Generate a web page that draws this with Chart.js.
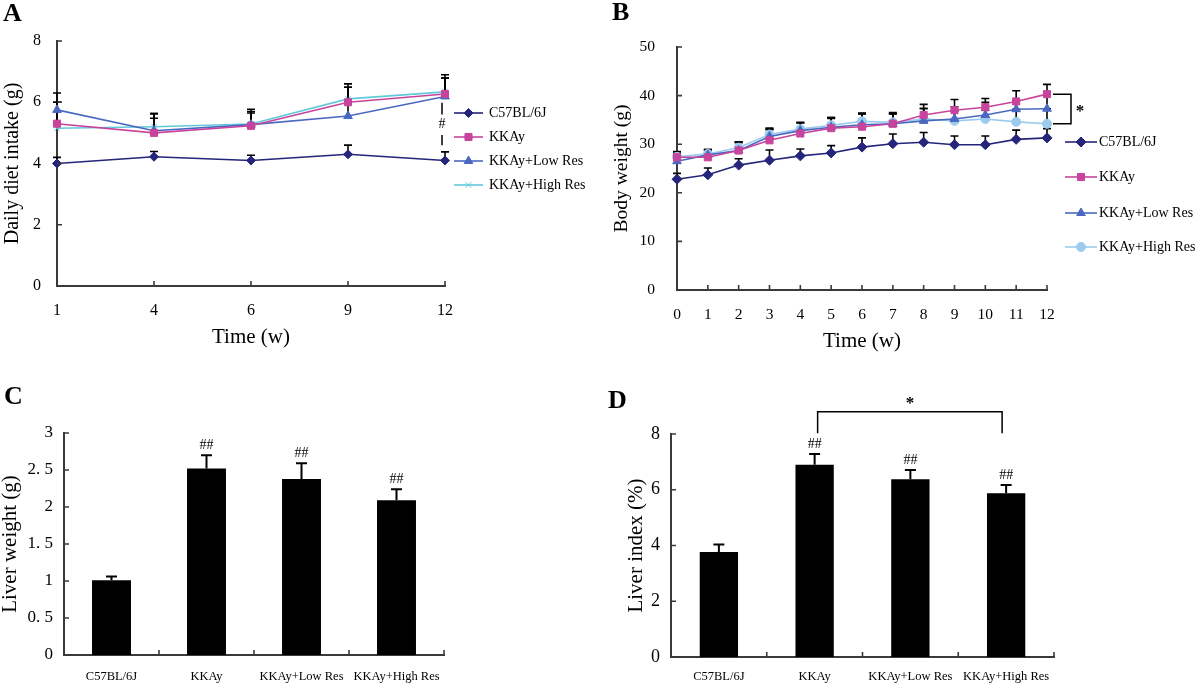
<!DOCTYPE html>
<html><head><meta charset="utf-8">
<script src="https://cdn.jsdelivr.net/npm/chart.js@4/dist/chart.umd.min.js"></script>
<style>
html,body{margin:0;padding:0;background:#fff;}
#wrap{position:relative;width:1200px;height:687px;overflow:hidden;background:#fff;}
canvas{position:absolute;}
.lbl{position:absolute;font-family:"Liberation Serif","Times New Roman",serif;font-weight:bold;font-size:26px;line-height:1;color:#000;}
</style></head><body>
<div id="wrap">
<canvas id="cA" width="600" height="360" style="left:0;top:0"></canvas>
<canvas id="cB" width="600" height="360" style="left:600px;top:0"></canvas>
<canvas id="cC" width="600" height="307" style="left:0;top:380px"></canvas>
<canvas id="cD" width="600" height="307" style="left:600px;top:380px"></canvas>
<div class="lbl" style="left:3px;top:0px">A</div>
<div class="lbl" style="left:612px;top:-1px">B</div>
<div class="lbl" style="left:4px;top:383px">C</div>
<div class="lbl" style="left:608px;top:387px">D</div>
</div>
<script>
// ---------- data ----------
const groups = ['C57BL/6J','KKAy','KKAy+Low Res','KKAy+High Res'];

// Panel A: daily diet intake (g)
const weeksA = ['1','4','6','9','12'];
const intakeC57 = [4.0,4.22,4.1,4.3,4.1];
const intakeC57Err = [0.2,0.17,0.17,0.3,0.28];
const intakeKKAy = [5.3,5.0,5.23,6.0,6.27];
const intakeKKAyErr = [0.7,0.48,0.42,0.49,0.52];
const intakeLow = [5.75,5.07,5.27,5.55,6.19];
const intakeLowErr = [0.55,0.56,0.43,0.94,0.6];
const intakeHigh = [5.15,5.2,5.29,6.11,6.34];
const intakeHighErr = [0.85,0.43,0.48,0.49,0.56];

// Panel B: body weight (g)
const weeksB = ['0','1','2','3','4','5','6','7','8','9','10','11','12'];
const bwC57 = [22.8,23.7,25.7,26.7,27.6,28.2,29.4,30.1,30.4,29.9,29.9,31.0,31.3];
const bwC57Err = [1.2,1.4,1.3,2.1,1.4,1.5,1.9,2.0,2.0,1.8,1.8,1.9,1.9];
const bwKKAy = [27.3,27.3,28.7,30.8,32.2,33.3,33.6,34.2,36.0,37.0,37.6,38.8,40.3];
const bwKKAyErr = [1.2,1.5,1.8,2.5,2.3,2.2,2.8,2.3,2.2,2.2,1.8,2.2,2.0];
const bwLow = [26.5,27.8,28.7,31.6,32.8,33.5,34.0,34.2,34.8,35.2,36.0,37.2,37.3];
const bwLowErr = [1.5,1.1,1.6,1.5,1.6,1.8,2.2,2.0,2.5,2.5,2.6,1.8,3.0];
const bwHigh = [27.4,28.0,29.3,32.0,33.1,33.9,34.7,34.5,35.2,34.8,35.2,34.6,34.2];
const bwHighErr = [1.0,0.9,1.2,1.0,1.3,1.6,1.6,1.8,2.2,2.0,1.8,2.6,3.1];

// Panel C: liver weight (g)
const liverWeight = [1.01,2.52,2.38,2.09];
const liverWeightErr = [0.05,0.18,0.21,0.15];
const liverWeightMarks = ['','##','##','##'];
const yTicksC = ['0','0. 5','1','1. 5','2','2. 5','3'];

// Panel D: liver index (%)
const liverIndex = [3.77,6.9,6.38,5.87];
const liverIndexErr = [0.27,0.38,0.33,0.3];
const liverIndexMarks = ['','##','##','##'];

// ---------- style ----------
const FONT = "'Liberation Serif','Times New Roman',serif";
const AX = '#3a3a3a';
const NAVY = '#25257c', MAGENTA = '#c8449c', BLUE = '#4a68c0', CYAN = '#62c9dc', LIGHTBLUE = '#9ccbee';
Chart.defaults.font.family = FONT;
Chart.defaults.color = '#000';
Chart.defaults.animation = false;

function lineDs(label, data, errors, color, style, r) {
  return {label, data, errors, borderColor: color, backgroundColor: color,
    pointBackgroundColor: color, pointBorderColor: color, pointStyle: style,
    pointRadius: r, pointBorderWidth: 1, borderWidth: 1.6, tension: 0, clip: false};
}

function drawMarker(ctx, style, r, x, y, color, bw) {
  ctx.save();
  ctx.fillStyle = color; ctx.strokeStyle = color; ctx.lineWidth = bw;
  const H = Chart.helpers;
  if (H && H.drawPoint) {
    H.drawPoint(ctx, {pointStyle: style, radius: r, borderWidth: bw, rotation: 0}, x, y);
  } else {
    ctx.beginPath(); ctx.arc(x, y, r, 0, Math.PI * 2); ctx.fill();
  }
  ctx.restore();
}

function errorBarPlugin(cap, lw, after) {
  const fn = function (chart) {
    const ctx = chart.ctx, ys = chart.scales.y;
    ctx.save(); ctx.strokeStyle = '#000'; ctx.lineWidth = lw;
    chart.data.datasets.forEach((ds, i) => {
      if (!ds.errors) return;
      const meta = chart.getDatasetMeta(i);
      meta.data.forEach((el, j) => {
        const v = ds.data[j], e = ds.errors[j];
        const x = el.x, y0 = ys.getPixelForValue(v), y1 = ys.getPixelForValue(v + e);
        ctx.beginPath();
        ctx.moveTo(x, y0); ctx.lineTo(x, y1);
        ctx.moveTo(x - cap / 2, y1); ctx.lineTo(x + cap / 2, y1);
        ctx.stroke();
      });
    });
    ctx.restore();
  };
  return after ? {id: 'errbars', afterDatasetsDraw: fn} : {id: 'errbars', beforeDatasetsDraw: fn};
}

function innerTicksPlugin(len, boundaries) {
  return {id: 'innerTicks', afterDraw(chart) {
    const {ctx, chartArea: ca, scales: {x, y}} = chart;
    ctx.save(); ctx.strokeStyle = AX; ctx.lineWidth = 1.6;
    ctx.beginPath();
    y.ticks.forEach(t => { const py = y.getPixelForValue(t.value); ctx.moveTo(ca.left, py); ctx.lineTo(ca.left + len, py); });
    const n = x.getLabels().length;
    if (boundaries) {
      for (let i = 1; i <= n; i++) { const px = ca.left + (ca.right - ca.left) * i / n; ctx.moveTo(px, ca.bottom); ctx.lineTo(px, ca.bottom - len); }
    } else {
      for (let i = 0; i < n; i++) { const px = x.getPixelForValue(i); ctx.moveTo(px, ca.bottom); ctx.lineTo(px, ca.bottom - len); }
    }
    ctx.stroke(); ctx.restore();
  }};
}

function legendPlugin(x0, x1, tx, ys, fontSize) {
  return {id: 'customLegend', afterDraw(chart) {
    const ctx = chart.ctx;
    chart.data.datasets.forEach((ds, i) => {
      const y = ys[i];
      ctx.save();
      ctx.strokeStyle = ds.borderColor; ctx.lineWidth = ds.borderWidth;
      ctx.beginPath(); ctx.moveTo(x0, y); ctx.lineTo(x1, y); ctx.stroke();
      drawMarker(ctx, ds.pointStyle, ds.pointRadius, (x0 + x1) / 2, y, ds.pointBorderColor, ds.pointBorderWidth);
      ctx.fillStyle = '#000'; ctx.font = fontSize + 'px ' + FONT;
      ctx.textBaseline = 'middle'; ctx.textAlign = 'left';
      ctx.fillText(ds.label, tx, y);
      ctx.restore();
    });
  }};
}

function barMarksPlugin(gap, fontSize) {
  return {id: 'barMarks', afterDraw(chart) {
    const ctx = chart.ctx, ys = chart.scales.y;
    const ds = chart.data.datasets[0], meta = chart.getDatasetMeta(0);
    ctx.save(); ctx.fillStyle = '#000'; ctx.font = fontSize + 'px ' + FONT;
    ctx.textAlign = 'center'; ctx.textBaseline = 'middle';
    meta.data.forEach((el, j) => {
      if (!ds.marks[j]) return;
      const top = ys.getPixelForValue(ds.data[j] + ds.errors[j]);
      ctx.fillText(ds.marks[j], el.x, top - gap);
    });
    ctx.restore();
  }};
}

function baseScales(o) {
  return {
    x: {type: 'category', offset: o.offset, grid: {display: false, drawTicks: false},
      border: {color: AX, width: 2},
      ticks: {font: {size: o.xFont}, padding: o.xPad, maxRotation: 0, autoSkip: false, color: '#000'},
      title: o.xTitle ? {display: true, text: o.xTitle, font: {size: 21}, padding: {top: 0, bottom: o.xTitlePad}, color: '#000'} : {display: false},
      afterFit(s) { s.height = o.xH; }},
    y: {min: o.min, max: o.max, grid: {display: false, drawTicks: false},
      border: {color: AX, width: 2},
      ticks: {stepSize: o.step, font: {size: o.yFont}, padding: o.yPad, color: '#000', callback: o.yCb},
      title: {display: true, text: o.yTitle, font: {size: o.yTitleSize, lineHeight: 1}, padding: {top: o.yTitlePad, bottom: 0}, color: '#000'},
      afterFit(s) { s.width = o.yW; }}
  };
}

// ---------- Panel A ----------
new Chart(document.getElementById('cA'), {
  type: 'line',
  data: {labels: weeksA, datasets: [
    lineDs(groups[0], intakeC57, intakeC57Err, NAVY, 'rectRot', 4.5),
    lineDs(groups[1], intakeKKAy, intakeKKAyErr, MAGENTA, 'rect', 5),
    lineDs(groups[2], intakeLow, intakeLowErr, BLUE, 'triangle', 5),
    lineDs(groups[3], intakeHigh, intakeHighErr, CYAN, 'crossRot', 4)
  ]},
  options: {responsive: false, animation: false,
    layout: {padding: {left: 0, top: 41, right: 155, bottom: 0}},
    plugins: {legend: {display: false}, tooltip: {enabled: false}},
    scales: baseScales({offset: false, xFont: 16, xPad: 15, xTitle: 'Time (w)', xTitlePad: 10, xH: 74,
      min: 0, max: 8, step: 2, yFont: 16, yPad: 16, yTitle: 'Daily diet intake (g)', yTitleSize: 20, yTitlePad: 3, yW: 57})
  },
  plugins: [errorBarPlugin(8, 1.6, false), innerTicksPlugin(5, false),
    legendPlugin(454, 483, 489, [113, 137, 161, 185], 14),
    {id: 'sigA', afterDraw(chart) {
      const {ctx, scales: {x, y}} = chart;
      const px = x.getPixelForValue(4) - 3;
      ctx.save(); ctx.strokeStyle = '#000'; ctx.lineWidth = 1.5;
      ctx.beginPath();
      ctx.moveTo(px, y.getPixelForValue(4.6)); ctx.lineTo(px, y.getPixelForValue(4.93));
      ctx.moveTo(px, y.getPixelForValue(5.6)); ctx.lineTo(px, y.getPixelForValue(5.98));
      ctx.stroke();
      ctx.fillStyle = '#000'; ctx.font = '14px ' + FONT; ctx.textAlign = 'center'; ctx.textBaseline = 'middle';
      ctx.fillText('#', px, y.getPixelForValue(5.28));
      ctx.restore();
    }}]
});

// ---------- Panel B ----------
new Chart(document.getElementById('cB'), {
  type: 'line',
  data: {labels: weeksB, datasets: [
    lineDs(groups[0], bwC57, bwC57Err, NAVY, 'rectRot', 5),
    lineDs(groups[1], bwKKAy, bwKKAyErr, MAGENTA, 'rect', 5),
    lineDs(groups[2], bwLow, bwLowErr, BLUE, 'triangle', 5),
    lineDs(groups[3], bwHigh, bwHighErr, LIGHTBLUE, 'circle', 4.5)
  ]},
  options: {responsive: false, animation: false,
    layout: {padding: {left: 0, top: 47, right: 153, bottom: 0}},
    plugins: {legend: {display: false}, tooltip: {enabled: false}},
    scales: baseScales({offset: false, xFont: 15.5, xPad: 16, xTitle: 'Time (w)', xTitlePad: 6, xH: 70,
      min: 0, max: 50, step: 10, yFont: 15.5, yPad: 22, yTitle: 'Body weight (g)', yTitleSize: 19.5, yTitlePad: 12, yW: 77})
  },
  plugins: [errorBarPlugin(8, 1.6, false), innerTicksPlugin(5, false),
    legendPlugin(465, 497, 499, [142, 177, 213, 247], 14),
    {id: 'sigB', afterDraw(chart) {
      const {ctx, scales: {x, y}} = chart;
      const last = weeksB.length - 1;
      const px = x.getPixelForValue(last);
      const yT = y.getPixelForValue(bwKKAy[last]), yB = y.getPixelForValue(bwHigh[last]);
      ctx.save(); ctx.strokeStyle = '#000'; ctx.lineWidth = 1.5;
      ctx.beginPath();
      ctx.moveTo(px + 6, yT); ctx.lineTo(px + 24, yT); ctx.lineTo(px + 24, yB); ctx.lineTo(px + 6, yB);
      ctx.stroke();
      ctx.fillStyle = '#000'; ctx.font = 'bold 17px ' + FONT; ctx.textAlign = 'center'; ctx.textBaseline = 'middle';
      ctx.fillText('*', px + 33, (yT + yB) / 2 + 3);
      ctx.restore();
    }}]
});

// ---------- Panel C ----------
new Chart(document.getElementById('cC'), {
  type: 'bar',
  data: {labels: groups, datasets: [{data: liverWeight, errors: liverWeightErr, marks: liverWeightMarks,
    backgroundColor: '#000', borderWidth: 0, barPercentage: 0.41, categoryPercentage: 1}]},
  options: {responsive: false, animation: false,
    layout: {padding: {left: 0, top: 53, right: 156, bottom: 0}},
    plugins: {legend: {display: false}, tooltip: {enabled: false}},
    scales: baseScales({offset: true, xFont: 12.5, xPad: 14, xTitle: null, xH: 32,
      min: 0, max: 3, step: 0.5, yFont: 17, yPad: 11, yCb: (v, i) => yTicksC[i], yTitle: 'Liver weight (g)', yTitleSize: 21, yTitlePad: 0, yW: 64})
  },
  plugins: [errorBarPlugin(11, 2, true), innerTicksPlugin(5, true), barMarksPlugin(10, 14)]
});

// ---------- Panel D ----------
new Chart(document.getElementById('cD'), {
  type: 'bar',
  data: {labels: groups, datasets: [{data: liverIndex, errors: liverIndexErr, marks: liverIndexMarks,
    backgroundColor: '#000', borderWidth: 0, barPercentage: 0.40, categoryPercentage: 1}]},
  options: {responsive: false, animation: false,
    layout: {padding: {left: 0, top: 54, right: 146, bottom: 0}},
    plugins: {legend: {display: false}, tooltip: {enabled: false}},
    scales: baseScales({offset: true, xFont: 12.5, xPad: 12, xTitle: null, xH: 30,
      min: 0, max: 8, step: 2, yFont: 18, yPad: 11, yTitle: 'Liver index (%)', yTitleSize: 21, yTitlePad: 26, yW: 71})
  },
  plugins: [errorBarPlugin(11, 2, true), innerTicksPlugin(5, true), barMarksPlugin(10, 14),
    {id: 'sigD', afterDraw(chart) {
      const {ctx, scales: {x, y}} = chart;
      const x1 = x.getPixelForValue(1) + 3, x2 = x.getPixelForValue(3) - 4;
      const yTop = y.getPixelForValue(8.8), yEnd = y.getPixelForValue(8.03);
      ctx.save(); ctx.strokeStyle = '#000'; ctx.lineWidth = 1.5;
      ctx.beginPath();
      ctx.moveTo(x1, yEnd); ctx.lineTo(x1, yTop); ctx.lineTo(x2, yTop); ctx.lineTo(x2, yEnd);
      ctx.stroke();
      ctx.fillStyle = '#000'; ctx.font = 'bold 17px ' + FONT; ctx.textAlign = 'center'; ctx.textBaseline = 'middle';
      ctx.fillText('*', (x1 + x2) / 2, y.getPixelForValue(9.1));
      ctx.restore();
    }}]
});
</script>
</body></html>
